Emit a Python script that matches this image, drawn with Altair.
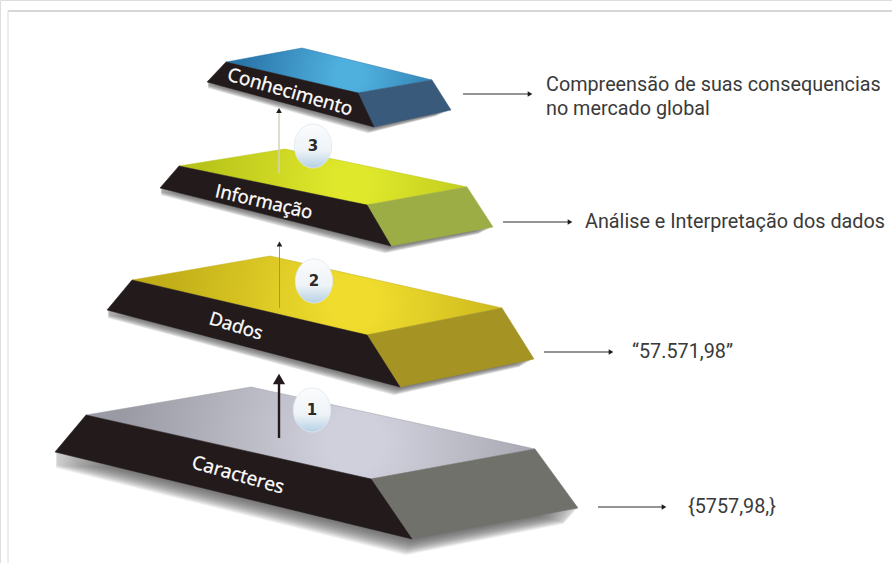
import altair as alt
import pandas as pd

WIDTH, HEIGHT = 892, 563

# Outline of each slab: back-left, back apex, back-right, top-front,
# right-bottom, front-bottom, left-bottom
tier_names = ["Caracteres", "Dados", "Informação", "Conhecimento"]
back_left = [(86, 415), (132, 280), (179, 166), (226, 62)]
apex = [(251, 387), (270, 256), (285, 149), (302, 48)]
back_right = [(535, 449), (502, 308), (467, 187), (432, 80)]
top_front = [(371, 479), (367, 335), (367, 205), (358, 93)]
right_bottom = [(578, 508), (534, 359), (493, 227), (451, 110)]
front_bottom = [(412, 539), (400, 387), (391, 246), (374, 127)]
left_bottom = [(55, 452), (107, 310), (160, 188), (207, 82)]
shadow_drop = [16, 8, 7, 6]

top_edge = ["#9a9aa4", "#c0ad18", "#b8c41a", "#2a76aa"]
top_glow = ["#d0d0dc", "#efdc2d", "#dfe82b", "#4fb0de"]
side_fill = ["#71716c", "#a59324", "#9dad45", "#3a5a7b"]
front_fill = "#231a1b"

label_x = [238, 236, 264, 290]
label_y = [475, 326, 202, 92]
label_angle = [16, 17, 13, 16]
label_size = [19, 18.5, 18.5, 19]

badge_numbers = ["1", "2", "3"]
badge_x = [312, 314, 313]
badge_y = [410, 281, 146]

riser_x = [279, 279.5, 279]
riser_from = [438, 308, 173]
riser_to = [380, 246, 112]
riser_color = ["#231a1b", "#a89a3a", "#d2d2c0"]
riser_width = [2.4, 1, 1]
riser_head_y = [379, 244, 110.5]
riser_head_size = [150, 32, 32]

note_from = [598, 544, 503, 463]
note_to = [664, 611, 570, 530]
note_y = [507, 352, 222, 94]

text_x = [688, 632, 585, 546, 546]
text_y = [507, 352, 222, 85, 109]
text_lines = [
    "{5757,98,}",
    "“57.571,98”",
    "Análise e Interpretação dos dados",
    "Compreensão de suas consequencias",
    "no mercado global",
]

x_scale = alt.Scale(domain=[0, WIDTH], range=[0, WIDTH], nice=False, zero=False)
y_scale = alt.Scale(domain=[0, HEIGHT], range=[0, HEIGHT], nice=False, zero=False)
X = alt.X("x:Q", scale=x_scale, axis=None)
Y = alt.Y("y:Q", scale=y_scale, axis=None)


def polygon(points, **mark):
    closed = list(points) + [points[0]]
    frame = pd.DataFrame(
        {"x": [p[0] for p in closed], "y": [p[1] for p in closed], "i": range(len(closed))}
    )
    return (
        alt.Chart(frame)
        .mark_line(interpolate="linear", **mark)
        .encode(x=X, y=Y, order=alt.Order("i:Q"))
    )


def glow(edge, bright, fx, fy):
    return {
        "gradient": "radial",
        "x1": fx, "y1": fy, "r1": 0,
        "x2": fx, "y2": fy, "r2": 0.52,
        "stops": [
            {"offset": 0, "color": bright},
            {"offset": 0.12, "color": bright},
            {"offset": 1, "color": edge},
        ],
    }


layers = []

# Page frame
layers.append(polygon([(8, 11), (892, 11)], stroke="#c9c9c9", strokeWidth=1))
layers.append(polygon([(8, 11), (8, 563)], stroke="#e6e6e6", strokeWidth=1))

for t in range(len(tier_names)):
    # Shadow beneath the slab: translucent copies, one per pixel of drop,
    # so the tone deepens towards the slab
    drop = shadow_drop[t]
    for step in range(drop, 0, -1):
        k = step / drop
        hull = [
            (left_bottom[t][0] + 1.5, left_bottom[t][1] + step - 1.5),
            (front_bottom[t][0] - 6 * k, front_bottom[t][1] + step - 1.5),
            (right_bottom[t][0] - 14 * k - 1.5, right_bottom[t][1] + step - 1.5),
            top_front[t],
        ]
        layers.append(
            polygon(
                hull,
                stroke="#555555",
                fill="#555555",
                strokeJoin="round",
                strokeWidth=3,
                opacity=1.4 / (drop + 1),
            )
        )

    layers.append(
        polygon(
            [back_left[t], apex[t], back_right[t], top_front[t]],
            fill=glow(top_edge[t], top_glow[t], 0.6, 0.52),
            stroke=top_edge[t],
            strokeWidth=0.5,
        )
    )
    layers.append(
        polygon(
            [top_front[t], back_right[t], right_bottom[t], front_bottom[t]],
            fill=side_fill[t],
            stroke=side_fill[t],
            strokeWidth=0.5,
        )
    )
    layers.append(
        polygon(
            [back_left[t], top_front[t], front_bottom[t], left_bottom[t]],
            fill=front_fill,
            stroke=front_fill,
            strokeWidth=0.5,
        )
    )
    layers.append(
        alt.Chart(
            pd.DataFrame(
                {"x": [label_x[t]], "y": [label_y[t]], "label": [tier_names[t]]}
            )
        )
        .mark_text(
            font="Open Sans",
            fontSize=label_size[t],
            color="white",
            stroke="white",
            strokeWidth=0.35,
            angle=label_angle[t],
            align="center",
            baseline="middle",
        )
        .encode(x=X, y=Y, text="label:N")
    )

# Rising arrows between the slabs
for i in range(3):
    layers.append(
        polygon(
            [(riser_x[i], riser_from[i]), (riser_x[i], riser_to[i])],
            stroke=riser_color[i],
            strokeWidth=riser_width[i],
        )
    )
    layers.append(
        alt.Chart(pd.DataFrame({"x": [riser_x[i]], "y": [riser_head_y[i]]}))
        .mark_point(
            shape="triangle-up",
            filled=True,
            color="#231a1b",
            opacity=1,
            size=riser_head_size[i],
        )
        .encode(x=X, y=Y)
    )

# Numbered badges: slightly tall ellipses with a pale blue fade
badge_frame = pd.DataFrame({"x": badge_x, "y": badge_y, "n": badge_numbers})
badge_shape = "M0,-1.18 C0.55,-1.18 1,-0.65 1,0 C1,0.65 0.55,1.18 0,1.18 C-0.55,1.18 -1,0.65 -1,0 C-1,-0.65 -0.55,-1.18 0,-1.18 Z"
layers.append(
    alt.Chart(badge_frame)
    .mark_point(
        shape=badge_shape,
        size=1400,
        opacity=1,
        filled=True,
        fill={
            "gradient": "linear",
            "x1": 0, "y1": 0, "x2": 0, "y2": 1,
            "stops": [
                {"offset": 0, "color": "#fbfcfd"},
                {"offset": 0.6, "color": "#eef3f7"},
                {"offset": 1, "color": "#b5d0e4"},
            ],
        },
        stroke="#dfe7ee",
        strokeWidth=0.8,
    )
    .encode(x=X, y=Y)
)
layers.append(
    alt.Chart(badge_frame)
    .mark_text(font="DejaVu Sans", fontWeight="bold", fontSize=15, color="#2a2a2a")
    .encode(x=X, y=Y, text="n:N")
)

# Arrows pointing from each slab to its description
for i in range(4):
    layers.append(
        polygon([(note_from[i], note_y[i]), (note_to[i], note_y[i])], stroke="#2b2b2b", strokeWidth=1.1)
    )
note_heads = pd.DataFrame({"x": note_to, "y": note_y})
layers.append(
    alt.Chart(note_heads)
    .mark_point(shape="triangle-right", filled=True, color="#1c1c1c", opacity=1, size=28)
    .encode(x=X, y=Y)
)

layers.append(
    alt.Chart(pd.DataFrame({"x": text_x, "y": text_y, "t": text_lines}))
    .mark_text(font="Roboto", fontSize=19.8, color="#3a3a3a", align="left", baseline="middle")
    .encode(x=X, y=Y, text="t:N")
)

chart = (
    alt.layer(*layers)
    .properties(width=WIDTH, height=HEIGHT, padding=0, background="white")
    .configure_view(stroke=None)
    .configure(autosize=alt.AutoSizeParams(type="none"))
)

chart.save("out.html", embed_options={"renderer": "svg", "actions": False})
